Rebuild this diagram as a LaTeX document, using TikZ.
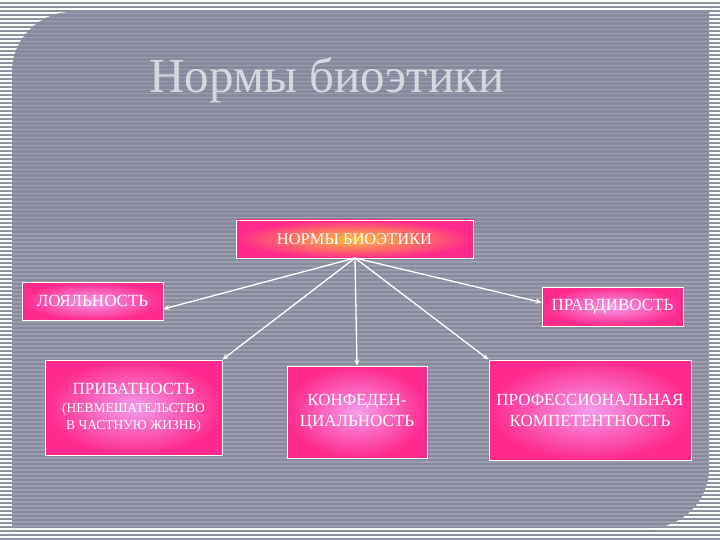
\documentclass[tikz,border=0pt]{standalone}
\usepackage{fontspec}
\setmainfont{Liberation Serif}
\usetikzlibrary{arrows.meta}
\definecolor{outerg}{HTML}{8E91A2}
\definecolor{panelg}{HTML}{878A9C}
\definecolor{panell}{HTML}{9C9EAE}
\definecolor{hotpink}{HTML}{FF2A8C}
\definecolor{softpink}{HTML}{F49CEC}
\definecolor{titlec}{HTML}{D6D7DF}
\tikzset{
  pbox/.style={draw=white, line width=0.8pt, inner color=softpink, outer color=hotpink,
    minimum width=#1, align=center, text=white, font=\fontsize{17}{21}\selectfont},
  conn/.style={draw=white, line width=1.3pt, -{Stealth[length=6pt,width=5pt]}},
}
\begin{document}
\begin{tikzpicture}[x=1pt,y=-1pt]
\useasboundingbox (0,0) rectangle (720,540);
% outer background stripes
\fill[outerg] (0,0) rectangle (720,540);
\foreach \i in {0,...,135} {
  \fill[white] (0,{\i*4}) rectangle (720,{\i*4+2});
}
% panel
\path[save path=\panelpath] (12,72) .. controls (12,39) and (39,12) .. (72,12) -- (709,12) -- (709,468) .. controls (709,501) and (682,528) .. (649,528) -- (12,528) -- cycle;
\fill[panelg, use path=\panelpath];
\begin{scope}
\clip[use path=\panelpath];
\foreach \i in {3,...,132} {
  \fill[panell] (0,{\i*4+1}) rectangle (720,{\i*4+2.5});
}
\end{scope}
% title
\node[text=titlec, font=\fontsize{49}{54}\selectfont] (title) at (327,80) {Нормы биоэтики};
% boxes
\node[pbox=237pt, minimum height=38pt, inner color={rgb,255:red,255;green,190;blue,60}, font=\fontsize{16.5}{20}\selectfont] (top) at (354.5,239) {НОРМЫ БИОЭТИКИ};
\node[pbox=141pt, minimum height=38pt] (loy) at (92.5,301) {ЛОЯЛЬНОСТЬ};
\node[pbox=141pt, minimum height=39pt] (prav) at (612.5,306.5) {\raisebox{-2pt}{ПРАВДИВОСТЬ}};
\node[pbox=177pt, minimum height=95pt] (priv) at (133.5,407.5) {ПРИВАТНОСТЬ\\[-3pt]{\fontsize{13.5}{17}\selectfont (НЕВМЕШАТЕЛЬСТВО}\\[-4pt]{\fontsize{13.5}{17}\selectfont В ЧАСТНУЮ ЖИЗНЬ)}};
\node[pbox=140pt, minimum height=92pt] (konf) at (357,412) {КОНФЕДЕН-\\ЦИАЛЬНОСТЬ};
\node[pbox=202pt, minimum height=100pt] (prof) at (590,410) {ПРОФЕССИОНАЛЬНАЯ\\КОМПЕТЕНТНОСТЬ};
% connectors
\coordinate (hub) at (355,258);
\draw[conn] (hub) -- ([yshift=-8pt]loy.east);
\draw[conn] (hub) -- (priv.north east);
\draw[conn] (hub) -- (konf.north);
\draw[conn] (hub) -- ([yshift=4pt]prav.west);
\draw[conn] (hub) -- (prof.north west);
\end{tikzpicture}
\end{document}
